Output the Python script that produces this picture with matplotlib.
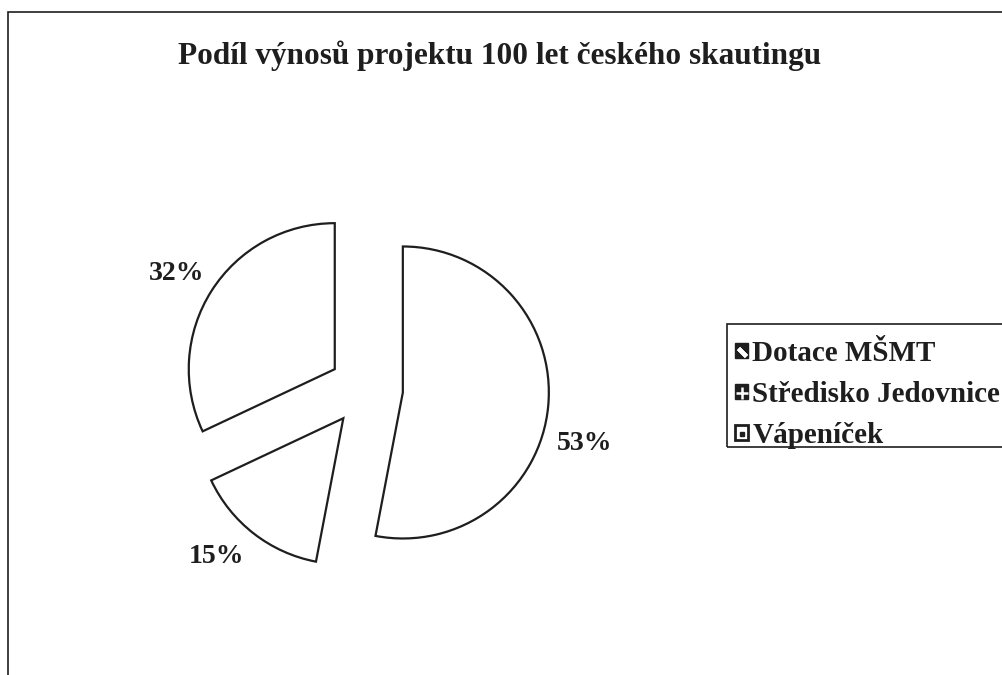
import matplotlib
matplotlib.use("Agg")
import matplotlib.pyplot as plt
from matplotlib.patches import Patch, Rectangle
from matplotlib.lines import Line2D
from matplotlib.legend_handler import HandlerTuple

# data
categories = ["Dotace MŠMT", "Středisko Jedovnice", "Vápeníček"]
shares = [53, 15, 32]
title = "Podíl výnosů projektu 100 let českého skautingu"

W, H = 1002, 675
INK = "#1e1e1e"
plt.rcParams["font.family"] = ["Liberation Serif", "DejaVu Serif"]
plt.rcParams["font.weight"] = "bold"

fig = plt.figure(figsize=(W / 100, H / 100), dpi=100)
fig.patch.set_facecolor("white")
ax = fig.add_axes([0, 0, 1, 1])

wedges, texts, autotexts = ax.pie(
    shares,
    startangle=90,
    counterclock=False,
    explode=[37] * len(shares),
    radius=146,
    center=(366, 286),
    autopct="%.0f%%",
    pctdistance=1.29,
    wedgeprops=dict(facecolor="white", edgecolor=INK, linewidth=1.6),
    textprops=dict(fontsize=20, fontweight="bold", color=INK),
    frame=True,
)

# Excel places the outside labels a bit differently
label_nudge = [(-6, -33), (-11, 11), (1, -5)]
for t, (dx, dy) in zip(autotexts, label_nudge):
    x, y = t.get_position()
    t.set_position((x + dx, y + dy))
    t.set_ha("center")
    t.set_va("center")

ax.set_xlim(0, W)
ax.set_ylim(0, H)
ax.set_aspect("equal")
ax.axis("off")

fig.text(500 / W, 1 - 56 / H, title, ha="center", va="center",
         fontsize=22.5, fontweight="bold", color=INK)

# outer chart frame (cut off at right and bottom)
fig.add_artist(Rectangle((8 / W, -0.1), 1.2, 1.1 - 12 / H,
                         transform=fig.transFigure, fill=False,
                         edgecolor=INK, linewidth=1.2))

# legend box (also runs off the right edge)
fig.add_artist(Rectangle((727 / W, 1 - 447 / H), 0.5, 123 / H,
                         transform=fig.transFigure, fill=False,
                         edgecolor=INK, linewidth=1.2))

# legend keys: dark squares with small white patterns like Excel
handles = [
    (Patch(facecolor=INK, edgecolor=INK),
     Line2D([], [], marker=(2, 2, 45), color="white", markersize=8,
            markeredgewidth=3, linestyle="")),
    (Patch(facecolor=INK, edgecolor=INK),
     Line2D([], [], marker="+", color="white", markersize=8,
            markeredgewidth=1.8, linestyle="")),
    (Patch(facecolor="white", edgecolor=INK, linewidth=2),
     Line2D([], [], marker="s", color=INK, markersize=2.5, linestyle="")),
]
leg = fig.legend(handles=handles, labels=categories, loc="upper left",
                 bbox_to_anchor=(735 / W, 1 - 340 / H),
                 handler_map={tuple: HandlerTuple(ndivide=1)},
                 frameon=False, borderaxespad=0,
                 handlelength=0.45, handleheight=0.45, handletextpad=0.15,
                 labelspacing=0.48, borderpad=0.0,
                 prop=dict(size=21, weight="bold"))
for t in leg.get_texts():
    t.set_color(INK)

fig.savefig("out.png", dpi=100)
